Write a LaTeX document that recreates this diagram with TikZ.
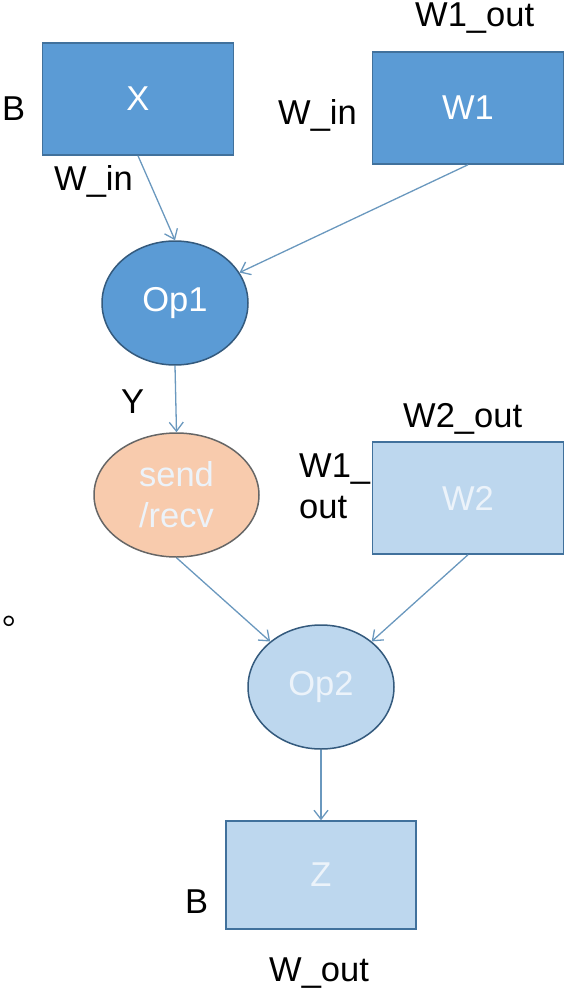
\documentclass[tikz,border=0pt]{standalone}
\usepackage{fontspec}
\setmainfont{Liberation Sans}
\newfontfamily\cjk{Noto Sans CJK SC}
\usetikzlibrary{arrows.meta,shapes.geometric}
\definecolor{deepblue}{RGB}{91,155,213}
\definecolor{paleblue}{RGB}{189,215,238}
\definecolor{peach}{RGB}{248,203,173}
\definecolor{rimblue}{RGB}{65,113,156}
\definecolor{flowblue}{RGB}{106,152,190}
\definecolor{ghost}{RGB}{236,243,250}
\tikzset{
	tensor/.style={draw=rimblue, line width=1.5pt, minimum width=191pt, minimum height=112pt, inner sep=0pt},
	deeptensor/.style={tensor, fill=deepblue, text=white},
	paletensor/.style={tensor, fill=paleblue, text=ghost},
	opnode/.style={ellipse, draw=rimblue!80!black, line width=1.5pt, minimum width=146pt, minimum height=124pt, inner sep=0pt},
	flow/.style={draw=flowblue, line width=1.3pt, -{Straight Barb[length=9pt,width=14pt]}},
	dim/.style={anchor=base west, inner sep=0pt, text=black}
}

\begin{document}
\begin{tikzpicture}[x=1pt, y=-1pt, font=\fontsize{34.5}{41}\selectfont]
				%%%%% START %%%%%
				\useasboundingbox (0, 0) rectangle (566, 990);
				
				% first layer
				\node[deeptensor] (X) at (138, 99) {X};
				\node[deeptensor] (W1) at (468, 108) {W1};
				\node[opnode, fill=deepblue, text=white] (Op1) at (175, 303) {Op1};
				
				\node[dim] (Bx) at (2, 120) {B};
				\node[dim] (Winx) at (54, 190) {W\_in};
				\node[dim] (Winw) at (278, 124) {W\_in};
				\node[dim] (Woutw) at (415, 27) {W1\_out};
				
				\draw[flow] (X.south) -- (Op1.north);
				\draw[flow] (W1.south) -- (Op1);
				
				% communication
				\node[opnode, fill=peach, draw=black!60, text=ghost, align=center, minimum width=165pt] (comm) at (176.5, 495) {send\\/recv};
				\node[dim] (Y) at (121, 413) {Y};
				\draw[flow] (Op1.south) -- (comm.north);
				
				% second layer
				\node[paletensor] (W2) at (468, 498) {W2};
				\node[opnode, fill=paleblue, text=ghost] (Op2) at (321, 687) {Op2};
				\node[paletensor, minimum width=190pt, minimum height=108pt] (Z) at (321, 875) {Z};
				
				\node[dim] (W2out) at (403, 427) {W2\_out};
				\node[dim] (W2ina) at (299, 477) {W1\_};
				\node[dim] (W2inb) at (299, 518) {out};
				\node[dim] (Bz) at (185, 913) {B};
				\node[dim] (Zout) at (269, 981) {W\_out};
				\node[dim] (dot) at (2, 624) {\cjk 。};
				
				\draw[flow] (comm.south) -- (Op2);
				\draw[flow] (W2.south) -- (Op2);
				\draw[flow] (Op2.south) -- (Z.north);
				%%%%% END %%%%%
\end{tikzpicture}
\end{document}
